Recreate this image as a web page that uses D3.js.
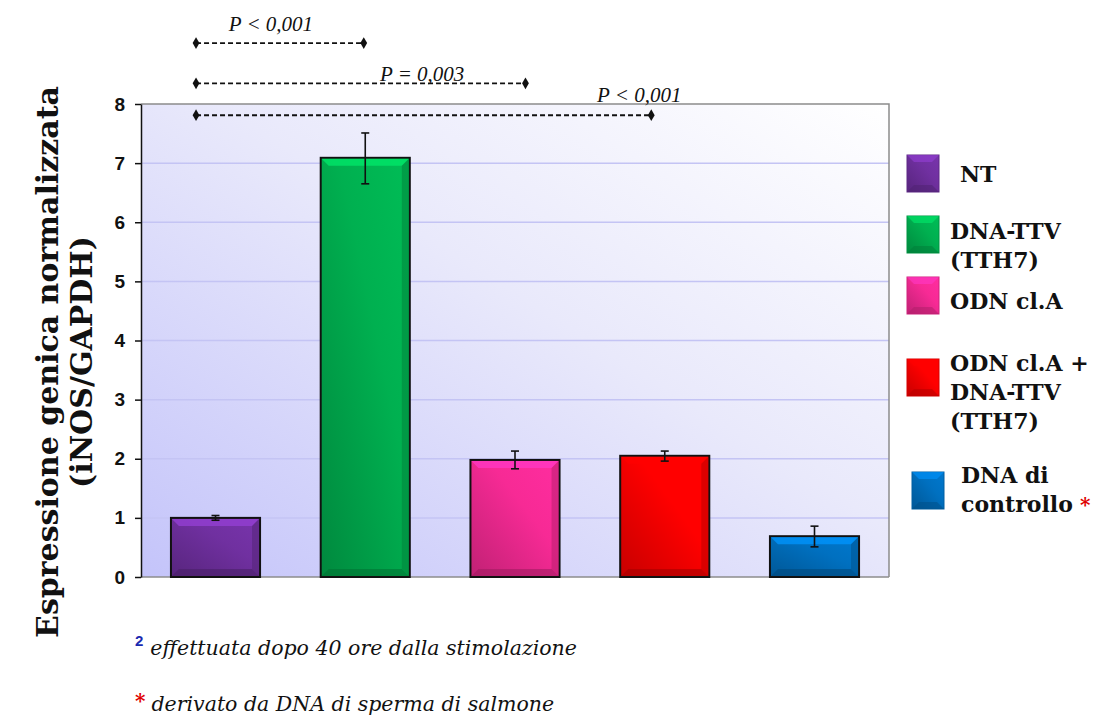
<!DOCTYPE html>
<html>
<head>
<meta charset="utf-8">
<script src="https://cdn.jsdelivr.net/npm/d3@7"></script>
<style>
  body { margin: 0; background: #fff; }
  svg { display: block; }
</style>
</head>
<body>
<svg id="chart"></svg>
<script>
// iNOS / GAPDH normalised expression, 5 treatments with SE bars

const CATEGORIES = ['NT', 'DNA-TTV (TTH7)', 'ODN cl.A', 'ODN cl.A + DNA-TTV (TTH7)', 'DNA di controllo'];
const VALUES     = [1.00, 7.09, 1.98, 2.05, 0.69];
const ERR_LOW    = [0.96, 6.65, 1.83, 1.96, 0.51];
const ERR_HIGH   = [1.04, 7.51, 2.13, 2.13, 0.86];
const COLORS     = ['#7030a0', '#00b050', '#f72a95', '#ff0000', '#0070c0'];
const Y_TICKS    = [0, 1, 2, 3, 4, 5, 6, 7, 8];

// significance brackets: from/to as category index, level in data units
const SIG_FROM   = [-0.13, -0.13, -0.13];
const SIG_TO     = [0.99, 2.07, 2.91];
const SIG_LEVEL  = [9.03, 8.35, 7.81];
const SIG_LABELS = ['P < 0,001', 'P = 0,003', 'P < 0,001'];
const SIG_LABEL_AT = [0.37, 1.38, 2.83];
const SIG_LABEL_LIFT = [12, 2, 13];

const LEGEND_LINES = [['NT'], ['DNA-TTV', '(TTH7)'], ['ODN cl.A'], ['ODN cl.A +', 'DNA-TTV', '(TTH7)'], ['DNA di', 'controllo']];

const W = 1101, H = 722;
const M = { top: 104, right: 212, bottom: 145, left: 141 };
const iW = W - M.left - M.right;
const iH = H - M.top - M.bottom;

const svg = d3.select('#chart').attr('width', W).attr('height', H);
const defs = svg.append('defs');
const g = svg.append('g').attr('transform', `translate(${M.left},${M.top})`);

// ── Plot background gradient ─────────────────────────────────────────────
const bg = defs.append('linearGradient').attr('id', 'bg-grad')
    .attr('x1', '0%').attr('y1', '100%').attr('x2', '100%').attr('y2', '0%');
bg.append('stop').attr('offset', '0%').attr('stop-color', '#c4c4fa');
bg.append('stop').attr('offset', '55%').attr('stop-color', '#e9e9fb');
bg.append('stop').attr('offset', '100%').attr('stop-color', '#ffffff');

g.append('rect').attr('width', iW).attr('height', iH).attr('fill', 'url(#bg-grad)');

// ── Scales ───────────────────────────────────────────────────────────────
const x = d3.scaleBand().domain(d3.range(CATEGORIES.length)).range([0, iW]).paddingInner(0.405).paddingOuter(0.2);
const y = d3.scaleLinear().domain([0, 8]).range([iH, 0]);
const xi = i => x(0) + x.bandwidth() / 2 + i * x.step();   // category index -> px (fractional)

// grid
g.append('g').selectAll('line').data(Y_TICKS.filter(t => t > 0 && t < 8)).join('line')
    .attr('x1', 0).attr('x2', iW).attr('y1', d => y(d)).attr('y2', d => y(d))
    .attr('stroke', '#c4c4f4').attr('stroke-width', 1.5);

// plot frame top / right / bottom
g.append('path').attr('d', `M0,0H${iW}V${iH}`).attr('fill', 'none').attr('stroke', '#8c8c8c').attr('stroke-width', 1.5);
g.append('line').attr('x1', 0).attr('x2', iW).attr('y1', iH).attr('y2', iH).attr('stroke', '#8c8c8c').attr('stroke-width', 1.5);

// ── Bars ─────────────────────────────────────────────────────────────────
COLORS.forEach((c, i) => {
    const gr = defs.append('linearGradient').attr('id', `bar-grad-${i}`)
        .attr('x1', '0%').attr('y1', '100%').attr('x2', '100%').attr('y2', '0%');
    gr.append('stop').attr('offset', '0%').attr('stop-color', d3.color(c).darker(0.7));
    gr.append('stop').attr('offset', '60%').attr('stop-color', c);
    gr.append('stop').attr('offset', '100%').attr('stop-color', d3.color(c).brighter(0.2));
});

const bars = g.append('g').selectAll('g').data(VALUES).join('g');
bars.append('rect')
    .attr('x', (d, i) => x(i)).attr('y', d => y(d))
    .attr('width', x.bandwidth()).attr('height', d => iH - y(d))
    .attr('fill', (d, i) => `url(#bar-grad-${i})`)
    .attr('stroke', '#111').attr('stroke-width', 2);
// bevel highlights
bars.append('path')
    .attr('d', (d, i) => {
        const x0 = x(i) + 1, x1 = x(i) + x.bandwidth() - 1, y0 = y(d) + 1, b = 7;
        return `M${x0},${y0}H${x1}L${x1 - b},${y0 + b}H${x0 + b}Z`;
    })
    .attr('fill', (d, i) => d3.color(COLORS[i]).brighter(0.8)).attr('opacity', 0.75);
bars.append('path')
    .attr('d', (d, i) => {
        const x0 = x(i) + 1, x1 = x(i) + x.bandwidth() - 1, y1 = iH - 1, b = 7;
        return `M${x0},${y1}H${x1}L${x1 - b},${y1 - b}H${x0 + b}Z`;
    })
    .attr('fill', (d, i) => d3.color(COLORS[i]).darker(1.2)).attr('opacity', 0.6);
bars.append('path')
    .attr('d', (d, i) => {
        const x1 = x(i) + x.bandwidth() - 1, y0 = y(d) + 1, y1 = iH - 1, b = 7;
        return `M${x1},${y0}V${y1}L${x1 - b},${y1 - b}V${y0 + b}Z`;
    })
    .attr('fill', (d, i) => d3.color(COLORS[i]).darker(0.9)).attr('opacity', 0.5);

// ── Error bars ───────────────────────────────────────────────────────────
const eb = g.append('g').attr('stroke', '#111').attr('stroke-width', 1.6);
VALUES.forEach((v, i) => {
    const cx = xi(i);
    eb.append('line').attr('x1', cx).attr('x2', cx).attr('y1', y(ERR_HIGH[i])).attr('y2', y(ERR_LOW[i]));
    eb.append('line').attr('x1', cx - 4).attr('x2', cx + 4).attr('y1', y(ERR_HIGH[i])).attr('y2', y(ERR_HIGH[i]));
    eb.append('line').attr('x1', cx - 4).attr('x2', cx + 4).attr('y1', y(ERR_LOW[i])).attr('y2', y(ERR_LOW[i]));
});

// ── Y axis ───────────────────────────────────────────────────────────────
const yAxis = g.append('g')
    .call(d3.axisLeft(y).tickValues(Y_TICKS).tickSize(6).tickSizeOuter(0).tickPadding(10));
yAxis.select('.domain').attr('stroke', '#111').attr('stroke-width', 1.5);
yAxis.selectAll('.tick line').attr('stroke', '#111').attr('stroke-width', 1.5);
yAxis.selectAll('.tick text')
    .attr('font-family', 'Liberation Sans, Arial, sans-serif').attr('font-weight', 'bold')
    .attr('font-size', '19px').attr('fill', '#111');

// ── Significance brackets ────────────────────────────────────────────────
const sig = g.append('g');
SIG_LEVEL.forEach((lv, i) => {
    const yy = y(lv);
    sig.append('line').attr('x1', xi(SIG_FROM[i])).attr('x2', xi(SIG_TO[i]))
        .attr('y1', yy).attr('y2', yy)
        .attr('stroke', '#111').attr('stroke-width', 1.8).attr('stroke-dasharray', '5 3');
    [SIG_FROM[i], SIG_TO[i]].forEach(p => {
        sig.append('path').attr('d', d3.symbol(d3.symbolDiamond, 40)())
            .attr('transform', `translate(${xi(p)},${yy})`).attr('fill', '#111');
    });
    sig.append('text').attr('x', xi(SIG_LABEL_AT[i])).attr('y', yy - SIG_LABEL_LIFT[i])
        .attr('text-anchor', 'middle')
        .attr('font-family', 'Liberation Serif, serif').attr('font-style', 'italic')
        .attr('font-size', '21px').attr('fill', '#111')
        .text(SIG_LABELS[i]);
});

// ── Y label ──────────────────────────────────────────────────────────────
const yl = svg.append('text')
    .attr('transform', `translate(58,${M.top + 258}) rotate(-90)`)
    .attr('text-anchor', 'middle')
    .attr('font-family', 'DejaVu Serif, serif').attr('font-weight', 'bold')
    .attr('font-size', '30px').attr('fill', '#111');
yl.append('tspan').attr('x', 0).attr('dy', 0).text('Espressione genica normalizzata');
yl.append('tspan').attr('x', 0).attr('dy', 34).text('(iNOS/GAPDH)');

// ── Legend ───────────────────────────────────────────────────────────────
const LEG_SQ_X = [907, 907, 907, 907, 912];
const LEG_SQ_Y = [155, 216, 277, 359, 472];
const LEG_TX = [960, 950, 950, 950, 961];
const LEG_TY = [182, 239, 309, 371, 483];
const leg = svg.append('g');
CATEGORIES.forEach((c, i) => {
    const sx = LEG_SQ_X[i], sy = LEG_SQ_Y[i];
    leg.append('rect').attr('x', sx).attr('y', sy).attr('width', 32).attr('height', 37)
        .attr('fill', `url(#bar-grad-${i})`).attr('stroke', d3.color(COLORS[i]).darker(0.5)).attr('stroke-width', 1);
    leg.append('path').attr('d', `M${sx},${sy}H${sx + 32}L${sx + 25},${sy + 7}H${sx + 7}Z`)
        .attr('fill', d3.color(COLORS[i]).brighter(0.8)).attr('opacity', 0.6);
    leg.append('path').attr('d', `M${sx},${sy + 37}H${sx + 32}L${sx + 25},${sy + 30}H${sx + 7}Z`)
        .attr('fill', d3.color(COLORS[i]).darker(1)).attr('opacity', 0.5);
    const t = leg.append('text')
        .attr('font-family', 'DejaVu Serif, serif').attr('font-weight', 'bold')
        .attr('font-size', '22px').attr('fill', '#111');
    LEGEND_LINES[i].forEach((ln, k) => {
        t.append('tspan').attr('x', LEG_TX[i]).attr('y', LEG_TY[i] + k * 29).text(ln);
        if (i === 4 && k === 1) {
            t.append('tspan').attr('dx', 7).attr('fill', '#e00000').attr('font-size', '20px').text('*');
        }
    });
});

// ── Footnotes ────────────────────────────────────────────────────────────
const fn = svg.append('g').attr('font-family', 'DejaVu Serif, serif').attr('font-size', '20.5px');
const f1 = fn.append('text').attr('x', 135).attr('y', 655);
f1.append('tspan').attr('fill', '#1a2ab0').attr('font-weight', 'bold').attr('font-size', '15px')
    .attr('font-family', 'Liberation Sans, sans-serif').attr('dy', -9).text('2');
f1.append('tspan').attr('dx', 7).attr('dy', 9).attr('font-style', 'italic').attr('fill', '#111')
    .text('effettuata dopo 40 ore dalla stimolazione');
const f2 = fn.append('text').attr('x', 135).attr('y', 711);
f2.append('tspan').attr('fill', '#e00000').attr('font-weight', 'bold').attr('font-size', '20px').attr('dy', -3).text('*');
f2.append('tspan').attr('dx', 6).attr('dy', 3).attr('font-style', 'italic').attr('fill', '#111')
    .text('derivato da DNA di sperma di salmone');
</script>
</body>
</html>
